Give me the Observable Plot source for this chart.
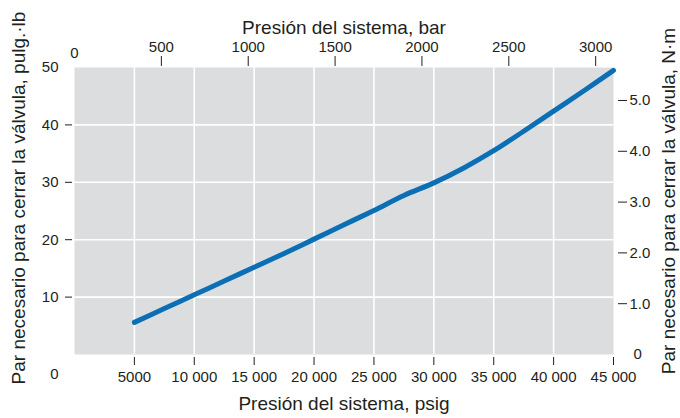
<!DOCTYPE html>
<html>
<head>
<meta charset="utf-8">
<script src="https://cdn.jsdelivr.net/npm/d3@7"></script>
<script src="https://cdn.jsdelivr.net/npm/@observablehq/plot@0.6"></script>
<style>
  html, body { margin: 0; padding: 0; background: #ffffff; }
  #chart svg { display: block; }
</style>
</head>
<body>
<div id="chart"></div>
<script>
// Data
const pressurePsig = [5000, 7500, 10000, 12500, 15000, 17500, 20000, 22500, 25000, 27500, 30000, 32500, 35000, 37500, 40000, 42500, 45000];
const torqueLbIn   = [5.6, 8.0, 10.4, 12.8, 15.2, 17.6, 20.1, 22.6, 25.1, 27.7, 29.9, 32.5, 35.5, 38.9, 42.4, 45.9, 49.5];

const psigTicks = [5000, 10000, 15000, 20000, 25000, 30000, 35000, 40000, 45000];
const psigGrid  = [5000, 10000, 15000, 20000, 25000, 30000, 35000, 40000];
const barTicks  = [500, 1000, 1500, 2000, 2500, 3000];
const lbInTicks = [10, 20, 30, 40];
const nmTicks   = [1, 2, 3, 4, 5];

const psiPerBar = 14.5038;
const nmPerLbIn = 0.112985;

const titleTop    = "Presión del sistema, bar";
const titleBottom = "Presión del sistema, psig";
const titleLeft   = "Par necesario para cerrar la válvula, pulg.·lb";
const titleRight  = "Par necesario para cerrar la válvula, N·m";

const data = pressurePsig.map((p, i) => ({psig: p, lbin: torqueLbIn[i]}));
const ink = "#231f20";
const fmtPsig = d => d >= 10000 ? d3.format(",")(d).replace(/,/g, " ") : String(d);

const chart = Plot.plot({
  width: 680,
  height: 418,
  marginLeft: 74,
  marginRight: 67,
  marginTop: 67,
  marginBottom: 64,
  style: {fontFamily: "'Liberation Sans', Arial, Helvetica, sans-serif", fontSize: "15px", color: ink, background: "#ffffff"},
  x: {domain: [0, 45000]},
  y: {domain: [0, 50]},
  marks: [
    Plot.frame({fill: "#dcdddf", stroke: null}),
    Plot.gridX(psigGrid, {stroke: "#ffffff", strokeOpacity: 1, strokeWidth: 1.6}),
    Plot.gridY(lbInTicks, {stroke: "#ffffff", strokeOpacity: 1, strokeWidth: 1.6}),
    Plot.line(data, {x: "psig", y: "lbin", stroke: "#0a6fb4", strokeWidth: 5, curve: "catmull-rom"}),
    // bottom axis (psig)
    Plot.axisX(psigTicks, {anchor: "bottom", tickSize: 8, dy: 3, tickPadding: 6, tickFormat: fmtPsig, label: null, stroke: ink, fill: ink}),
    Plot.text([0], {x: d => d, text: d => String(d), frameAnchor: "bottom", dy: 24, dx: -20, fontSize: 15, fill: ink}),
    // top axis (bar)
    Plot.axisX(barTicks.map(b => b * psiPerBar), {anchor: "top", tickSize: 10, dy: -2, tickPadding: 4, tickFormat: d => String(Math.round(d / psiPerBar)), label: null, stroke: ink, fill: ink}),
    Plot.text([0], {x: d => d, text: d => String(d), frameAnchor: "top", dy: -20, fontSize: 15, fill: ink}),
    // left axis (lb·in)
    Plot.axisY(lbInTicks, {anchor: "left", tickSize: 7, dx: -2, tickPadding: 7, label: null, stroke: ink, fill: ink}),
    Plot.axisY([50], {anchor: "left", tickSize: 0, tickPadding: 16, label: null, fill: ink}),
    // right axis (N·m)
    Plot.axisY(nmTicks.map(v => v / nmPerLbIn), {anchor: "right", tickSize: 9, dx: 4, tickPadding: 3, tickFormat: d => (d * nmPerLbIn).toFixed(1), label: null, stroke: ink, fill: ink}),
    Plot.axisY([0], {anchor: "right", tickSize: 0, tickPadding: 20, tickFormat: () => "0", label: null, fill: ink}),
    // axis titles
    Plot.text([titleTop], {text: d => d, frameAnchor: "top", dy: -47, fontSize: 19, fill: ink}),
    Plot.text([titleBottom], {text: d => d, frameAnchor: "bottom", dy: 55, fontSize: 19, fill: ink}),
    Plot.text([titleLeft], {text: d => d, frameAnchor: "left", textAnchor: "middle", dx: -56, dy: -13, rotate: -90, fontSize: 19, fill: ink}),
    Plot.text([titleRight], {text: d => d, frameAnchor: "right", textAnchor: "middle", dx: 55, dy: -10, rotate: -90, fontSize: 19, fill: ink})
  ]
});
document.getElementById("chart").appendChild(chart);
</script>
</body>
</html>
